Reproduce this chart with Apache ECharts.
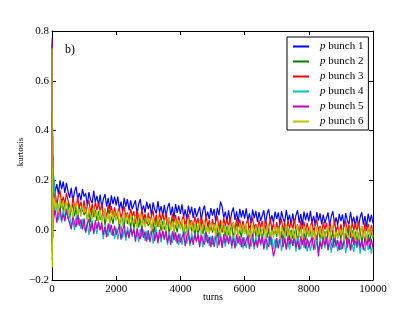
<!DOCTYPE html>
<html>
<head>
<meta charset="utf-8">
<script src="https://cdn.jsdelivr.net/npm/echarts@6/dist/echarts.min.js"></script>
<style>
html,body{margin:0;padding:0;background:#fff;}
#chart{width:415px;height:312px;}
</style>
</head>
<body>
<div id="chart"></div>
<script>
// x positions (turns): early samples then every 50 turns
const turns = [0, 10, 20, 30, 40];
for (let t = 50; t <= 10000; t += 50) turns.push(t);

const seriesNames = ['p bunch 1', 'p bunch 2', 'p bunch 3', 'p bunch 4', 'p bunch 5', 'p bunch 6'];
const xTicks = [0, 2000, 4000, 6000, 8000, 10000];
const yTicks = [-0.2, 0.0, 0.2, 0.4, 0.6, 0.8];

const bunch1 = [.74,-.05,.30,.15,.22,
.205,.155,.185,.145,.20,.165,.195,.15,.19,.155,
.13,.17,.115,.155,.175,.125,.15,.12,.165,.135,
.148,.098,.153,.123,.108,.158,.113,.138,.098,.143,
.09,.125,.145,.095,.13,.085,.14,.105,.135,.10,
.135,.085,.115,.075,.13,.095,.125,.08,.12,.085,
.08,.12,.065,.105,.125,.075,.10,.07,.115,.085,
.107,.057,.112,.082,.067,.117,.072,.097,.057,.102,
.055,.09,.11,.06,.095,.05,.105,.07,.10,.065,
.104,.054,.084,.044,.099,.064,.094,.049,.089,.054,
.054,.094,.039,.079,.099,.049,.074,.044,.089,.059,
.085,.035,.09,.06,.115,.095,.05,.075,.035,.08,
.036,.071,.091,.041,.076,.031,.086,.051,.081,.046,
.088,.038,.068,.028,.083,.048,.078,.033,.073,.038,
.04,.08,.025,.065,.085,.035,.06,.03,.075,.045,
.072,.022,.077,.047,.032,.082,.037,.062,.022,.067,
.025,.06,.08,.03,.065,.02,.075,.04,.07,.035,
.078,.028,.058,.018,.073,.038,.068,.023,.063,.028,
.031,.071,.016,.056,.076,.026,.051,.021,.066,.036,
.064,.014,.069,.039,.024,.074,.029,.054,.014,.059,
.017,.052,.072,.022,.057,.012,.067,.032,.062,.027];

const bunch2 = [.75,-.12,.22,.02,.10,
.115,.065,.12,.09,.075,.125,.08,.105,.065,.11,
.05,.085,.105,.055,.09,.045,.10,.065,.095,.06,
.092,.042,.072,.032,.087,.052,.082,.037,.077,.042,
.035,.075,.02,.06,.08,.03,.055,.025,.07,.04,
.06,.01,.065,.035,.02,.07,.025,.05,.01,.055,
.006,.041,.061,.011,.046,.001,.056,.021,.051,.016,
.053,.003,.033,-.007,.048,.013,.043,-.002,.038,.003,
.001,.041,-.014,.026,.046,-.004,.021,-.009,.036,.006,
.03,-.02,.035,.005,-.01,.04,-.005,.02,-.02,.025,
-.02,.015,.035,-.015,.02,-.025,.03,-.005,.025,-.01,
.03,-.02,.01,-.03,.025,-.01,.02,-.025,.015,-.02,
-.019,.021,-.034,.006,.026,-.024,.001,-.029,.016,-.014,
.012,-.038,.017,-.013,-.028,.022,-.023,.002,-.038,.007,
-.036,-.001,.019,-.031,.004,-.041,.014,-.021,.009,-.026,
.016,-.034,-.004,-.044,.011,-.024,.006,-.039,.001,-.034,
-.031,.009,-.046,-.006,.014,-.036,-.011,-.041,.004,-.026,
.002,-.048,.007,-.023,-.038,.012,-.033,-.008,-.048,-.003,
-.045,-.01,.01,-.04,-.005,-.05,.005,-.03,.0,-.035,
.009,-.041,-.011,-.051,.004,-.031,-.001,-.046,-.006,-.041,
-.037,.003,-.052,-.012,.008,-.042,-.017,-.047,-.002,-.032];

const bunch3 = [.73,-.04,.41,.05,.18,
.115,.155,.10,.14,.16,.11,.135,.105,.15,.12,
.125,.075,.13,.10,.085,.135,.09,.115,.075,.12,
.065,.10,.12,.07,.105,.06,.115,.08,.11,.075,
.107,.057,.087,.047,.102,.067,.097,.052,.092,.057,
.051,.091,.036,.076,.096,.046,.071,.041,.086,.056,
.076,.026,.081,.051,.036,.086,.041,.066,.026,.071,
.023,.058,.078,.028,.063,.018,.073,.038,.068,.033,
.071,.021,.051,.011,.066,.031,.061,.016,.056,.021,
.02,.06,.005,.045,.065,.015,.04,.01,.055,.025,
.05,.0,.055,.025,.01,.06,.015,.04,.0,.045,
.001,.036,.056,.006,.041,-.004,.051,.016,.046,.011,
.053,.003,.033,-.007,.048,.013,.043,-.002,.038,.003,
.005,.045,-.01,.03,.05,.0,.025,-.005,.04,.01,
.038,-.012,.043,.013,-.002,.048,.003,.028,-.012,.033,
-.009,.026,.046,-.004,.031,-.014,.041,.006,.036,.001,
.044,-.006,.024,-.016,.039,.004,.034,-.011,.029,-.006,
-.003,.037,-.018,.022,.042,-.008,.017,-.013,.032,.002,
.03,-.02,.035,.005,-.01,.04,-.005,.02,-.02,.025,
-.017,.018,.038,-.012,.023,-.022,.033,-.002,.028,-.007,
.036,-.014,.016,-.024,.031,-.004,.026,-.019,.021,-.014];

const bunch4 = [.74,-.06,.20,.00,.12,
.22,.13,.09,.04,.075,.03,.085,.05,.08,.045,
.06,.01,.04,.0,.055,.02,.05,.005,.045,.01,
-.005,.035,-.02,.02,.04,-.01,.015,-.015,.03,.0,
.015,-.035,.02,-.01,-.025,.025,-.02,.005,-.035,.01,
-.037,-.002,.018,-.032,.003,-.042,.013,-.022,.008,-.027,
.012,-.038,-.008,-.048,.007,-.028,.002,-.043,-.003,-.038,
-.039,.001,-.054,-.014,.006,-.044,-.019,-.049,-.004,-.034,
-.01,-.06,-.005,-.035,-.05,.0,-.045,-.02,-.06,-.015,
-.059,-.024,-.004,-.054,-.019,-.064,-.009,-.044,-.014,-.049,
-.008,-.058,-.028,-.068,-.013,-.048,-.018,-.063,-.023,-.058,
-.056,-.016,-.071,-.031,-.011,-.061,-.036,-.066,-.021,-.051,
-.024,-.074,-.019,-.049,-.064,-.014,-.059,-.034,-.074,-.029,
-.072,-.037,-.017,-.067,-.032,-.077,-.022,-.057,-.027,-.062,
-.02,-.07,-.04,-.08,-.025,-.06,-.03,-.075,-.035,-.07,
-.068,-.028,-.083,-.043,-.023,-.073,-.048,-.078,-.033,-.063,
-.036,-.086,-.031,-.061,-.076,-.026,-.071,-.046,-.086,-.041,
-.083,-.048,-.028,-.078,-.043,-.088,-.033,-.068,-.038,-.073,
-.03,-.08,-.05,-.09,-.035,-.07,-.04,-.085,-.045,-.08,
-.077,-.037,-.092,-.052,-.032,-.082,-.057,-.087,-.042,-.072,
-.044,-.094,-.039,-.069,-.084,-.034,-.079,-.054,-.094,-.049];

const bunch5 = [.77,-.09,.38,-.03,.15,
.045,.085,.03,.07,.09,.04,.065,.035,.08,.05,
.053,.003,.058,.028,.013,.063,.018,.043,.003,.048,
-.01,.025,.045,-.005,.03,-.015,.04,.005,.035,.0,
.032,-.018,.012,-.028,.027,-.008,.022,-.023,.017,-.018,
-.023,.017,-.038,.002,.022,-.028,-.003,-.033,.012,-.018,
.004,-.046,.009,-.021,-.036,.014,-.031,-.006,-.046,-.001,
-.048,-.013,.007,-.043,-.008,-.053,.002,-.033,-.003,-.038,
.001,-.049,-.019,-.059,-.004,-.039,-.009,-.054,-.014,-.049,
-.049,-.009,-.064,-.024,-.004,-.054,-.029,-.059,-.014,-.044,
-.018,-.068,-.013,-.043,-.058,-.008,-.053,-.028,-.068,-.023,
-.066,-.031,-.011,-.061,-.026,-.071,-.016,-.051,-.021,-.056,
-.013,-.063,-.033,-.073,-.018,-.053,-.023,-.068,-.028,-.063,
-.06,-.02,-.075,-.035,-.015,-.065,-.04,-.07,-.025,-.055,
-.027,-.077,-.022,-.052,-.067,-.017,-.062,-.105,-.077,-.032,
-.073,-.038,-.018,-.068,-.033,-.078,-.023,-.058,-.028,-.063,
-.019,-.069,-.039,-.079,-.024,-.059,-.029,-.074,-.034,-.069,
-.065,-.025,-.08,-.04,-.02,-.105,-.045,-.075,-.03,-.06,
-.03,-.08,-.025,-.055,-.07,-.02,-.065,-.04,-.08,-.035,
-.075,-.04,-.02,-.07,-.035,-.08,-.025,-.06,-.03,-.065,
-.02,-.07,-.04,-.08,-.025,-.06,-.03,-.075,-.035,-.07];

const bunch6 = [.73,-.15,.25,-.02,.12,
.13,.08,.11,.07,.125,.09,.12,.075,.115,.08,
.065,.105,.05,.09,.11,.06,.085,.055,.10,.07,
.087,.037,.092,.062,.047,.097,.052,.077,.037,.082,
.03,.065,.085,.035,.07,.025,.08,.045,.075,.04,
.075,.025,.055,.015,.07,.035,.065,.02,.06,.025,
.021,.061,.006,.046,.066,.016,.041,.011,.056,.026,
.048,-.002,.053,.023,.008,.058,.013,.038,-.002,.043,
-.004,.031,.051,.001,.036,-.009,.046,.011,.041,.006,
.045,-.005,.025,-.015,.04,.005,.035,-.01,.03,-.005,
-.005,.035,-.02,.02,.04,-.01,.015,-.015,.03,.0,
.025,-.025,.03,.0,-.015,.035,-.01,.015,-.025,.02,
-.024,.011,.031,-.019,.016,-.029,.026,-.009,.021,-.014,
.028,-.022,.008,-.032,.023,-.012,.018,-.027,.013,-.022,
-.02,.02,-.035,.005,.025,-.025,.0,-.03,.015,-.015,
.013,-.037,.018,-.012,-.027,.023,-.022,.003,-.037,.008,
-.034,.001,.021,-.029,.006,-.039,.016,-.019,.011,-.024,
.02,-.03,.0,-.04,.015,-.02,.01,-.035,.005,-.03,
-.026,.014,-.041,-.001,.019,-.031,-.006,-.036,.009,-.021,
.008,-.042,.013,-.017,-.032,.018,-.027,-.002,-.042,.003,
-.038,-.003,.017,-.033,.002,-.043,.012,-.023,.007,-.028];

const allValues = [bunch1, bunch2, bunch3, bunch4, bunch5, bunch6];
const colors = ['#0000ff', '#008000', '#ff0000', '#00bfbf', '#bf00bf', '#bfbf00'];

const FONT = 'Liberation Serif';
const chart = echarts.init(document.getElementById('chart'), null, {renderer: 'canvas'});

const fmtY = v => {
  const s = (Math.round(v * 10) / 10).toFixed(1);
  return s.replace('-', '\u2212');
};

const axisCommon = {
  axisLine: {show: true, onZero: false, lineStyle: {color: '#000', width: 1}},
  axisTick: {show: true, inside: true, length: 4, lineStyle: {color: '#000', width: 1}},
  splitLine: {show: false}
};

const option = {
  animation: false,
  backgroundColor: '#fff',
  grid: {left: 52, right: 42, top: 31, bottom: 32, containLabel: false},
  legend: {
    orient: 'vertical',
    left: 287, top: 37,
    padding: [4, 5, 3, 6],
    backgroundColor: '#fff',
    borderColor: '#000', borderWidth: 1, borderRadius: 0,
    itemWidth: 16, itemHeight: 2, itemGap: 4,
    icon: 'rect',
    data: seriesNames,
    formatter: n => '{i|p}' + n.slice(1),
    textStyle: {
      fontFamily: FONT, fontSize: 11, color: '#000', lineHeight: 10, padding: [0, 0, 0, 6],
      rich: {i: {fontFamily: FONT, fontStyle: 'italic', fontSize: 11, lineHeight: 10}}
    }
  },
  xAxis: [
    Object.assign({
      type: 'value', min: xTicks[0], max: xTicks[xTicks.length - 1], interval: 2000, position: 'bottom',
      axisLabel: {fontFamily: FONT, fontSize: 11, color: '#000', margin: 4, formatter: v => String(v)}
    }, axisCommon),
    Object.assign({
      type: 'value', min: xTicks[0], max: xTicks[xTicks.length - 1], interval: 2000, position: 'top',
      axisLabel: {show: false}
    }, axisCommon)
  ],
  yAxis: [
    Object.assign({
      type: 'value', min: yTicks[0], max: yTicks[yTicks.length - 1], interval: 0.2, position: 'left',
      axisLabel: {fontFamily: FONT, fontSize: 11, color: '#000', margin: 3, formatter: fmtY}
    }, axisCommon),
    Object.assign({
      type: 'value', min: yTicks[0], max: yTicks[yTicks.length - 1], interval: 0.2, position: 'right',
      axisLabel: {show: false}
    }, axisCommon)
  ],
  graphic: [
    {type: 'text', left: 65, top: 44, style: {text: 'b)', font: '12px "Liberation Serif"', fill: '#000'}},
    {type: 'text', x: 21, y: 152, rotation: Math.PI / 2,
     style: {text: 'kurtosis', font: '9px "Liberation Serif"', fill: '#000', align: 'center', verticalAlign: 'middle'}},
    {type: 'text', x: 213, y: 297,
     style: {text: 'turns', font: '10px "Liberation Serif"', fill: '#000', align: 'center', verticalAlign: 'middle'}}
  ],
  series: seriesNames.map((name, k) => ({
    name: name,
    type: 'line',
    xAxisIndex: 0, yAxisIndex: 0,
    showSymbol: false, symbol: 'none',
    color: colors[k],
    lineStyle: {width: 1.2, color: colors[k]},
    data: turns.map((t, i) => [t, allValues[k][i]])
  }))
};
chart.setOption(option);
</script>
</body>
</html>
